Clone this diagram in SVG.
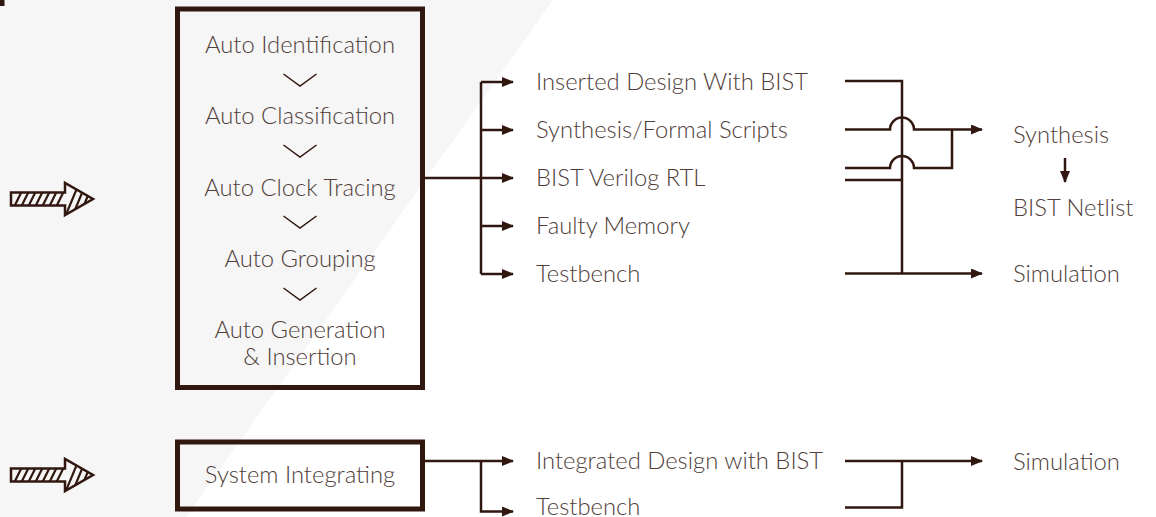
<svg xmlns="http://www.w3.org/2000/svg" width="1156" height="517" viewBox="0 0 1156 517">
<style>
.t{font-family:Lato,"Liberation Sans",sans-serif;font-weight:300;font-size:23.8px;fill:#4f3e3a}
.c{text-anchor:middle}
.ln{stroke:#30170f;stroke-width:2.5;fill:none}
.box{stroke:#30170f;stroke-width:5;fill:none}
.chev{stroke:#30170f;stroke-width:1.5;fill:none}
</style>
<defs>
<marker id="ah" viewBox="0 0 12 10" refX="11" refY="5" markerWidth="12" markerHeight="10" markerUnits="userSpaceOnUse" orient="auto">
<path d="M0,0 L12,5 L0,10 z" fill="#30170f"/>
</marker>
<clipPath id="hc"><path d="M11,-6.5 H65 V-16 L93,0 L65,16 V6.5 H11 z"/></clipPath>
<g id="hatch">
<g clip-path="url(#hc)" stroke="#30170f" stroke-width="2.2">
<path d="M14,8 L22,-8 M21,8 L29,-8 M28,8 L36,-8 M35,8 L43,-8 M42,8 L50,-8 M49,8 L57,-8 M56,8 L64,-8 M65,18 L80,-18 M72,18 L87,-18 M79,18 L94,-18"/>
</g>
<path d="M11,-6.5 H65 V-16 L93,0 L65,16 V6.5 H11 z" fill="none" stroke="#30170f" stroke-width="2.5" stroke-linejoin="miter"/>
</g>
</defs>
<rect width="1156" height="517" fill="#ffffff"/>
<path d="M0,0 H553 L186,517 H0 z" fill="#f6f6f6"/>
<rect x="0" y="0" width="4.5" height="6" fill="#30170f"/>

<g id="hatch-arrow-1"><use href="#hatch" transform="translate(0,199)"/></g>
<g id="hatch-arrow-2"><use href="#hatch" transform="translate(0,475)"/></g>

<g id="main-box">
<rect class="box" x="177.5" y="9" width="245" height="378.5"/>
<text class="t c" x="300" y="53">Auto Identification</text>
<path class="chev" d="M283.5,74 L300,86 L316.5,74"/>
<text class="t c" x="300" y="124">Auto Classification</text>
<path class="chev" d="M283.5,145 L300,157 L316.5,145"/>
<text class="t c" x="300" y="196">Auto Clock Tracing</text>
<path class="chev" d="M283.5,216 L300,228 L316.5,216"/>
<text class="t c" x="300" y="267">Auto Grouping</text>
<path class="chev" d="M283.5,288 L300,300 L316.5,288"/>
<text class="t c" x="300" y="338">Auto Generation</text>
<text class="t c" x="300" y="365">&amp; Insertion</text>
</g>

<g id="sys-box">
<rect class="box" x="177.5" y="442" width="245" height="67"/>
<text class="t c" x="300" y="483">System Integrating</text>
</g>

<g id="outputs">
<text class="t" x="536" y="90">Inserted Design With BIST</text>
<text class="t" x="536" y="138">Synthesis/Formal Scripts</text>
<text class="t" x="536" y="186">BIST Verilog RTL</text>
<text class="t" x="536" y="234">Faulty Memory</text>
<text class="t" x="536" y="282">Testbench</text>
<text class="t" x="536" y="469">Integrated Design with BIST</text>
<text class="t" x="536" y="515">Testbench</text>
</g>

<g id="results">
<text class="t" x="1013" y="143">Synthesis</text>
<text class="t" x="1013" y="216">BIST Netlist</text>
<text class="t" x="1013" y="282">Simulation</text>
<text class="t" x="1013" y="470">Simulation</text>
</g>

<g id="connectors">
<path class="ln" d="M424,178 H513" marker-end="url(#ah)"/>
<path class="ln" d="M481,82 V274"/>
<path class="ln" d="M481,82 H513" marker-end="url(#ah)"/>
<path class="ln" d="M481,130 H513" marker-end="url(#ah)"/>
<path class="ln" d="M481,226 H513" marker-end="url(#ah)"/>
<path class="ln" d="M481,274 H513" marker-end="url(#ah)"/>

<path class="ln" d="M845,81 H902 V273"/>
<path class="ln" d="M845,129.5 H890 A12,12 0 0 1 914,129.5 H982" marker-end="url(#ah)"/>
<path class="ln" d="M845,168 H890 A12,12 0 0 1 914,168 H952 V129.5"/>
<path class="ln" d="M845,180 H902"/>
<path class="ln" d="M845,273.5 H982" marker-end="url(#ah)"/>
<path class="ln" d="M1065,158 V182" marker-end="url(#ah)"/>

<path class="ln" d="M424,461 H513" marker-end="url(#ah)"/>
<path class="ln" d="M481,461 V511.5 H513" marker-end="url(#ah)"/>
<path class="ln" d="M845,461 H982" marker-end="url(#ah)"/>
<path class="ln" d="M845,507.5 H902 V461"/>
</g>
</svg>
